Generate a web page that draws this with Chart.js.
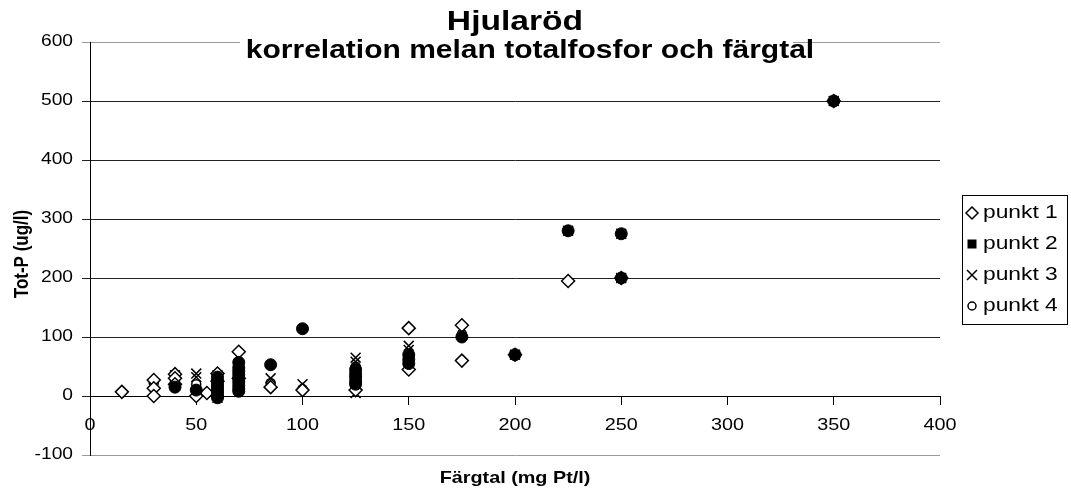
<!DOCTYPE html>
<html>
<head>
<meta charset="utf-8">
<script src="https://cdn.jsdelivr.net/npm/chart.js@4"></script>
<style>
  body { margin: 0; background: #fff; }
  canvas { display: block; }
</style>
</head>
<body>
<canvas id="myChart" width="1071" height="497"></canvas>
<script>
// values (Färgtal on x, Tot-P on y)
const p1x = [15, 30, 30, 30, 40, 40, 40, 50, 55, 60, 60, 70, 70, 85, 100, 125, 150, 150, 175, 175, 200, 225, 250, 350];
const p1y = [7, 27, 13, 0, 37, 30, 20, 0, 5, 38, 25, 75, 30, 15, 10, 10, 115, 45, 120, 60, 70, 195, 200, 500];

const p2x = [40, 50, 60, 60, 60, 60, 60, 60, 60, 60, 70, 70, 70, 70, 70, 70, 70, 70, 70, 85, 100, 125, 125, 125, 125, 125, 150, 150, 150, 175, 200, 225, 250, 250, 350];
const p2y = [15, 10, 32, 26, 20, 15, 10, 5, 0, -3, 57, 48, 42, 36, 30, 24, 18, 12, 8, 53, 114, 45, 38, 32, 25, 20, 70, 62, 55, 100, 70, 280, 275, 200, 500];

const p3x = [30, 40, 50, 50, 60, 60, 70, 85, 100, 125, 125, 125, 150, 150, 175, 200, 225, 250, 250, 350];
const p3y = [18, 35, 38, 32, 35, -3, 35, 30, 20, 65, 58, 5, 85, 78, 110, 70, 280, 275, 200, 500];

const p4x = [30, 40, 50, 60, 70, 85, 100, 125, 150, 175, 200, 225, 250, 250, 350];
const p4y = [22, 25, 20, 30, 45, 22, 12, 50, 55, 105, 70, 280, 275, 200, 500];

const seriesNames = ['punkt 1', 'punkt 2', 'punkt 3', 'punkt 4'];
const xTicks = [0, 50, 100, 150, 200, 250, 300, 350, 400];
const yTicks = [-100, 0, 100, 200, 300, 400, 500, 600];

const titleText = 'Hjularöd';
const subTitleText = 'korrelation melan totalfosfor och färgtal';
const xTitle = 'Färgtal (mg Pt/l)';
const yTitle = 'Tot-P (ug/l)';

function pts(xs, ys) {
    return xs.map(function(x, i) { return {x: x, y: ys[i]}; });
}

const FONT = '"Liberation Sans", Arial, sans-serif';
const SX = 1.2; // the original text is a bit wide

function wideText(ctx, str, x, y, font, align, rotate) {
    ctx.save();
    ctx.font = font;
    ctx.fillStyle = '#000';
    ctx.textAlign = align;
    ctx.textBaseline = 'middle';
    ctx.translate(x, y);
    ctx.scale(SX, 1);
    if (rotate) ctx.rotate(-Math.PI / 2);
    ctx.fillText(str, 0, 0);
    ctx.restore();
}

function legendMark(ctx, i, x, y) {
    ctx.save();
    ctx.strokeStyle = '#000';
    ctx.fillStyle = '#000';
    ctx.lineWidth = 1.5;
    ctx.beginPath();
    if (i == 0) {
        ctx.moveTo(x, y - 6); ctx.lineTo(x + 6, y); ctx.lineTo(x, y + 6); ctx.lineTo(x - 6, y); ctx.closePath();
        ctx.fillStyle = '#fff'; ctx.fill(); ctx.stroke();
    } else if (i == 1) {
        ctx.fillRect(x - 4.5, y - 4.5, 9, 9);
    } else if (i == 2) {
        ctx.moveTo(x - 5, y - 5); ctx.lineTo(x + 5, y + 5);
        ctx.moveTo(x + 5, y - 5); ctx.lineTo(x - 5, y + 5);
        ctx.stroke();
    } else {
        ctx.arc(x, y, 4, 0, Math.PI * 2);
        ctx.fillStyle = '#fff'; ctx.fill(); ctx.stroke();
    }
    ctx.restore();
}

const textPlugin = {
    id: 'texts',
    afterDraw(chart) {
        const ctx = chart.ctx;
        const xs = chart.scales.x;
        const ys = chart.scales.y;

        // title sits on a white box over the top gridline
        ctx.save();
        ctx.fillStyle = '#fff';
        ctx.fillRect(240, 0, 553, 74);
        ctx.restore();
        wideText(ctx, titleText, 515, 22, 'bold 28px ' + FONT, 'center');
        wideText(ctx, subTitleText, 530, 51, 'bold 25px ' + FONT, 'center');

        // tick labels
        xTicks.forEach(function(v) {
            wideText(ctx, String(v), xs.getPixelForValue(v), 425, '16.5px ' + FONT, 'center');
        });
        yTicks.forEach(function(v) {
            wideText(ctx, String(v), 73, ys.getPixelForValue(v), '16px ' + FONT, 'right');
        });

        // axis titles
        wideText(ctx, xTitle, 515, 478, 'bold 16.5px ' + FONT, 'center');
        wideText(ctx, yTitle, 22, 254, 'bold 17px ' + FONT, 'center', true);

        // legend
        ctx.save();
        ctx.strokeStyle = '#000';
        ctx.lineWidth = 1;
        ctx.strokeRect(962.5, 195.5, 105, 129);
        ctx.restore();
        seriesNames.forEach(function(name, i) {
            const y = 213 + i * 31;
            legendMark(ctx, i, 972, y);
            wideText(ctx, name, 983, y, '19px ' + FONT, 'left');
        });
    }
};

const data = {
    datasets: [{
        label: seriesNames[0],
        data: pts(p1x, p1y),
        pointStyle: 'rectRot',
        pointRadius: 6.5,
        pointBackgroundColor: '#fff',
        pointBorderColor: '#000',
        pointBorderWidth: 1.5,
        order: 1
    }, {
        label: seriesNames[1],
        data: pts(p2x, p2y),
        pointStyle: 'circle',
        pointRadius: 6,
        pointBackgroundColor: '#000',
        pointBorderColor: '#000',
        pointBorderWidth: 1,
        order: 0
    }, {
        label: seriesNames[2],
        data: pts(p3x, p3y),
        pointStyle: 'crossRot',
        pointRadius: 7,
        pointBorderColor: '#000',
        pointBorderWidth: 1.5,
        order: 2
    }, {
        label: seriesNames[3],
        data: pts(p4x, p4y),
        pointStyle: 'circle',
        pointRadius: 4.5,
        pointBackgroundColor: '#fff',
        pointBorderColor: '#000',
        pointBorderWidth: 1.5,
        order: 3
    }]
};

const config = {
    type: 'scatter',
    data,
    plugins: [textPlugin],
    options: {
        responsive: false,
        animation: false,
        events: [],
        layout: {
            padding: {top: 42, right: 131, bottom: 42, left: 0}
        },
        plugins: {
            legend: {display: false},
            title: {display: false},
            tooltip: {enabled: false}
        },
        scales: {
            x: {
                type: 'linear',
                position: {y: 0},
                min: 0,
                max: 400,
                ticks: {stepSize: 50, color: 'rgba(0,0,0,0)'},
                grid: {drawOnChartArea: false, drawTicks: true, tickLength: 8, color: '#000'},
                border: {display: true, color: '#000', width: 1}
            },
            y: {
                min: -100,
                max: 600,
                afterFit: function(scale) { scale.width = 90; },
                ticks: {stepSize: 100, color: 'rgba(0,0,0,0)'},
                grid: {
                    drawTicks: true,
                    tickLength: 8,
                    color: function(c) {
                        return (c.tick && (c.tick.value == 600 || c.tick.value == -100)) ? '#9a9a9a' : '#222';
                    }
                },
                border: {display: true, color: '#000', width: 1}
            }
        }
    }
};

const myChart = new Chart(
    document.getElementById('myChart'),
    config
);
</script>
</body>
</html>
